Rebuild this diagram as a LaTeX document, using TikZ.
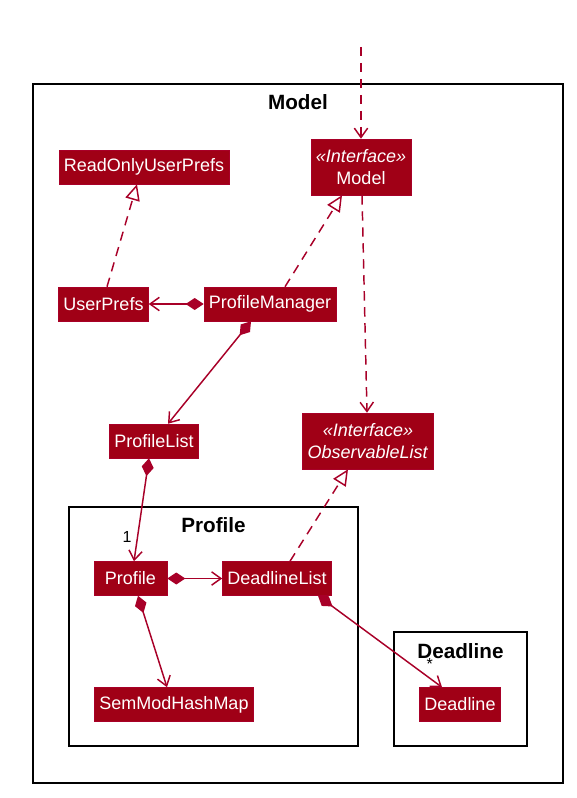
\documentclass[tikz,border=0pt]{standalone}
\usepackage{fontspec}
\setmainfont{Liberation Sans}
\usetikzlibrary{calc,arrows.meta}
\definecolor{umlfill}{RGB}{160,0,22}
\definecolor{umlline}{RGB}{168,0,40}
\tikzset{
	cls/.style={draw=umlline, fill=umlfill, text=white, font=\fontsize{13.5}{16}\selectfont, minimum height=25.5pt, minimum width=54.75pt, inner xsep=3.75pt, inner ysep=0pt},
	iface/.style={minimum height=42pt, align=center},
	frametitle/.style={font=\fontsize{15.5}{18}\bfseries\selectfont},
	lbl/.style={font=\fontsize{12}{14}\selectfont, inner sep=1pt},
	dep/.style={draw=umlline, line width=1.1pt, dash pattern=on 7pt off 5pt, -{Straight Barb[length=7pt,width=10pt]}},
	realize/.style={draw=umlline, line width=1.1pt, dash pattern=on 7pt off 5pt, -{Triangle[open,length=12pt,width=11pt,fill=white]}},
	comp/.style={draw=umlline, line width=1.1pt, {Diamond[length=13.5pt,width=9pt]}-{Straight Barb[length=7pt,width=10pt]}}
}

\begin{document}
\begin{tikzpicture}[x=0.75pt, y=-0.75pt]
		%%%%% START %%%%%
		\useasboundingbox (0, 0) rectangle (577, 798);
		
		% frames
		\draw[line width=1.5pt] (33, 84) rectangle (563, 783);
		\node[frametitle] (tmodel) at (298, 102) {Model};
		\draw[line width=1.5pt] (69, 507) rectangle (358, 746);
		\node[frametitle] (tprofile) at (213.5, 525) {Profile};
		\draw[line width=1.5pt] (394, 632) rectangle (527, 746);
		\node[frametitle] (tdeadline) at (460.5, 651) {Deadline};
		
		% classes
		\node[cls] (roup) at (144, 167) {ReadOnlyUserPrefs};
		\node[cls, iface] (model) at (361, 167) {\textit{«Interface»}\\Model};
		\node[cls] (up) at (103.5, 304) {UserPrefs};
		\node[cls] (pm) at (270, 304) {ProfileManager};
		\node[cls] (pl) at (154, 441) {ProfileList};
		\node[cls, iface] (ol) at (368, 441) {\textit{«Interface»}\\\textit{ObservableList}};
		\node[cls] (pf) at (130.5, 578.5) {Profile};
		\node[cls] (dl) at (277, 578.5) {DeadlineList};
		\node[cls] (smh) at (174, 704.5) {SemModHashMap};
		\node[cls] (dd) at (460, 704.5) {Deadline};
		
		% connectors
		\coordinate (top) at (361, 47);
		\draw[dep] (top) -- (model.north);
		\draw[dep] ($(model.south)+(1, 0)$) -- ($(ol.north)+(-1, 0)$);
		\draw[realize] ($(up.north)+(3.5, 0)$) -- ($(roup.south)+(-7, 0)$);
		\draw[realize] ($(pm.north)+(15, 0)$) -- ($(model.south)+(-19, 0)$);
		\draw[realize] ($(dl.north)+(13, 0)$) -- ($(ol.south)+(-20, 0)$);
		
		\draw[comp] (pm.west) -- (up.east);
		\draw[comp] ($(pm.south)+(-19, 0)$) -- ($(pl.north)+(14, 0)$);
		\draw[comp] ($(pl.south)+(-5, 0)$) -- ($(pf.north)+(3.5, 0)$) node[lbl, pos=0.76, left=3pt] (one) {1};
		\draw[comp] (pf.east) -- (dl.west);
		\draw[comp] ($(pf.south)+(7.5, 0)$) -- ($(smh.north)+(-7, 0)$);
		\draw[comp] ($(dl.south)+(41, 0)$) -- ($(dd.north)+(-18, 0)$) node[lbl, pos=0.75, xshift=14pt] (many) {*};
		
		%%%%% END %%%%%
	\end{tikzpicture}
\end{document}
